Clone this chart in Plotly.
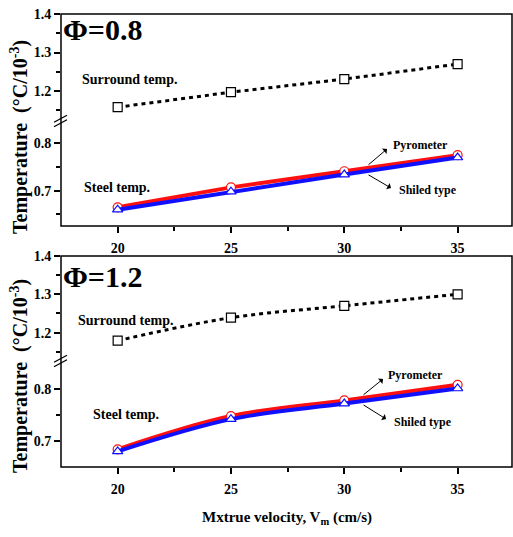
import plotly.graph_objects as go

# ---------------- data ----------------
velocity = [20, 25, 30, 35]
x_ticks = [20, 25, 30, 35]
x_minor = [22.5, 27.5, 32.5]

surround_08 = [1.158, 1.197, 1.231, 1.270]
pyrometer_08 = [0.665, 0.707, 0.741, 0.775]
shielded_08 = [0.660, 0.698, 0.734, 0.770]

surround_12 = [1.179, 1.239, 1.270, 1.300]
pyrometer_12 = [0.684, 0.748, 0.778, 0.808]
shielded_12 = [0.680, 0.742, 0.772, 0.801]

upper_ticks = [1.2, 1.3, 1.4]
upper_minor = [1.15, 1.25, 1.35]
lower_ticks = [0.7, 0.8]
lower_minor_08 = [0.65, 0.75]
lower_minor_12 = [0.75]

# ---------------- layout helpers ----------------
W, H = 513, 537
ML, MR, MT, MB = 61, 1, 14, 70
PW = W - ML - MR
PH = H - MT - MB


def pxx(px):
    return (px - ML) / PW


def pxy(py):
    return (H - MB - py) / PH


FONT = "'Liberation Serif', 'Times New Roman', Times, 'DejaVu Serif', serif"
BLACK = "#000000"
RED = "#ff1010"
BLUE = "#1010ff"

fig = go.Figure()


def add_panel(xa, ya_up, ya_lo, surround, pyro, shield, shape):
    fig.add_trace(go.Scatter(
        x=velocity, y=surround, xaxis=xa, yaxis=ya_up, mode="lines+markers",
        line=dict(color=BLACK, width=3, dash="4px,4px", shape=shape),
        marker=dict(symbol="square", size=9, color="white",
                    line=dict(color=BLACK, width=1.2)),
        showlegend=False, cliponaxis=False))
    fig.add_trace(go.Scatter(
        x=velocity, y=pyro, xaxis=xa, yaxis=ya_lo, mode="lines+markers",
        line=dict(color=RED, width=4, shape=shape),
        marker=dict(symbol="circle", size=9, color="white",
                    line=dict(color=RED, width=1.2)),
        showlegend=False, cliponaxis=False))
    fig.add_trace(go.Scatter(
        x=velocity, y=shield, xaxis=xa, yaxis=ya_lo, mode="lines+markers",
        line=dict(color=BLUE, width=4, shape=shape),
        marker=dict(symbol="triangle-up", size=9, color="white",
                    line=dict(color=BLUE, width=1.2)),
        showlegend=False, cliponaxis=False))


add_panel("x", "y", "y2", surround_08, pyrometer_08, shielded_08, "linear")
add_panel("x3", "y3", "y4", surround_12, pyrometer_12, shielded_12, "spline")

tickfont = dict(family=FONT, size=14, color=BLACK, weight="bold")
xrange = [17.5, 37.4]

common_x = dict(range=xrange, tickmode="array", tickvals=x_ticks,
                ticktext=[str(v) for v in x_ticks],
                ticks="outside", ticklen=6, tickwidth=1.5, tickcolor=BLACK,
                minor=dict(tickmode="array", tickvals=x_minor, ticks="outside",
                           ticklen=4, tickwidth=1.5, tickcolor=BLACK),
                showgrid=False, zeroline=False, showline=False,
                tickfont=tickfont)


def ycommon(rng, dom, ticks, minor, anchor):
    return dict(range=rng, domain=dom, anchor=anchor, tickmode="array",
                tickvals=ticks, ticktext=["%.1f" % v for v in ticks],
                ticks="outside", ticklen=6, tickwidth=1.5, tickcolor=BLACK,
                minor=dict(tickmode="array", tickvals=minor, ticks="outside",
                           ticklen=4, tickwidth=1.5, tickcolor=BLACK),
                showgrid=False, zeroline=False, showline=False,
                tickfont=tickfont)


fig.update_layout(
    width=W, height=H,
    margin=dict(l=ML, r=MR, t=MT, b=MB),
    paper_bgcolor="white", plot_bgcolor="rgba(0,0,0,0)",
    font=dict(family=FONT, color=BLACK),
    xaxis=dict(common_x, domain=[0, 1], anchor="y2", ticklabelstandoff=3),
    xaxis2=dict(common_x, anchor="y", side="top", overlaying="x",
                showticklabels=False),
    xaxis3=dict(common_x, domain=[0, 1], anchor="y4", ticklabelstandoff=3),
    xaxis4=dict(common_x, anchor="y3", side="top", overlaying="x3",
                showticklabels=False),
    yaxis=ycommon([1.13, 1.4], [pxy(118), 1.0], upper_ticks, upper_minor, "x"),
    yaxis2=ycommon([0.6255, 0.8428], [pxy(226), pxy(123)], lower_ticks,
                   lower_minor_08, "x"),
    yaxis3=ycommon([1.1337, 1.4], [pxy(358), pxy(256)], upper_ticks,
                   upper_minor, "x3"),
    yaxis4=ycommon([0.65, 0.85], [0.0, pxy(363)], lower_ticks,
                   lower_minor_12, "x3"),
)

shapes = []
# frames
for top, bot in [(14, 226), (256, 467)]:
    shapes.append(dict(type="rect", xref="paper", yref="paper",
                       x0=0, x1=1, y0=pxy(bot), y1=pxy(top),
                       line=dict(color=BLACK, width=1.5)))
# axis break marks
for yb in [121, 361]:
    for off in [-2.2, 2.2]:
        shapes.append(dict(type="line", xref="paper", yref="paper",
                           x0=pxx(54), y0=pxy(yb + off + 3.5),
                           x1=pxx(67), y1=pxy(yb + off - 3.5),
                           line=dict(color=BLACK, width=1.3)))
fig.update_layout(shapes=shapes)

ann = []
lab_font = dict(family=FONT, size=14, color=BLACK)
small_font = dict(family=FONT, size=12, color=BLACK)


def text(s, cx, cy, font, xanchor="center"):
    ann.append(dict(text=s, x=pxx(cx), y=pxy(cy), xref="paper", yref="paper",
                    showarrow=False, font=font, xanchor=xanchor,
                    yanchor="middle"))


def arrow(x0, y0, x1, y1):
    ann.append(dict(text="", x=pxx(x1), y=pxy(y1), xref="paper", yref="paper",
                    ax=x0 - x1, ay=y0 - y1, showarrow=True, arrowhead=1,
                    arrowsize=1.2, arrowwidth=1, arrowcolor=BLACK))


# panel labels
phi_font = dict(family=FONT, size=30, color=BLACK, weight="bold")
text("Φ=0.8", 61, 30, phi_font, "left")
text("Φ=1.2", 61, 276, phi_font, "left")

# top panel
text("<b>Surround temp.</b>", 129, 80, lab_font)
text("<b>Steel temp.</b>", 117, 188, lab_font)
text("<b>Pyrometer</b>", 420, 145, small_font)
text("<b>Shiled type</b>", 428, 190, small_font)
arrow(367, 166, 387, 149)
arrow(367, 174, 391, 188)

# bottom panel
text("<b>Surround temp.</b>", 125, 320, lab_font)
text("<b>Steel temp.</b>", 126, 414, lab_font)
text("<b>Pyrometer</b>", 415, 375, small_font)
text("<b>Shiled type</b>", 423, 422, small_font)
arrow(362, 396, 383, 379)
arrow(362, 404, 386, 419)

# y titles
ytitle = "<b>Temperature  (°C/10<sup>-3</sup>)</b>"
for cy in [137, 376]:
    ann.append(dict(text=ytitle, x=pxx(19), y=pxy(cy), xref="paper",
                    yref="paper", showarrow=False, textangle=-90,
                    font=dict(family=FONT, size=20, color=BLACK),
                    xanchor="center", yanchor="middle"))

# x title
ann.append(dict(text="<b>Mxtrue velocity, V<sub>m</sub> (cm/s)</b>",
                x=0.5, y=pxy(518), xref="paper", yref="paper",
                showarrow=False, font=dict(family=FONT, size=15, color=BLACK),
                xanchor="center", yanchor="middle"))

fig.update_layout(annotations=ann)

fig.write_html("out.html",
               config={"displayModeBar": False},
               post_script="document.body.style.margin='0px';"
                           "document.body.style.overflow='hidden';")
